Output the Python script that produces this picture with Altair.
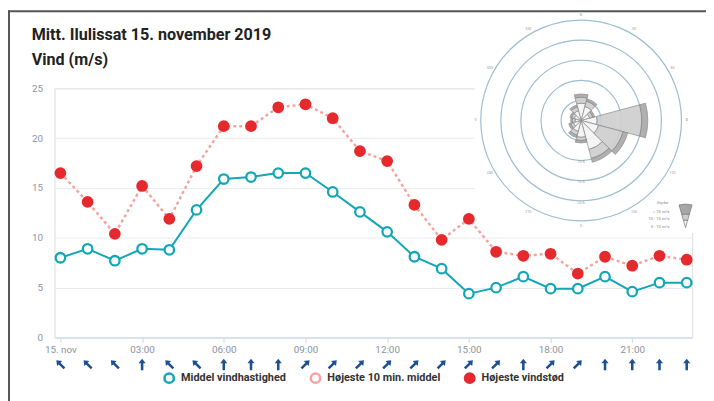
import altair as alt
import pandas as pd

# ---------------- data ----------------
hours = list(range(24))
mean_speed = [8.0, 8.9, 7.7, 8.9, 8.8, 12.8, 15.9, 16.1, 16.5, 16.5, 14.6, 12.6,
              10.6, 8.1, 6.9, 4.4, 5.0, 6.1, 4.9, 4.9, 6.1, 4.6, 5.5, 5.5]
gust_speed = [16.5, 13.6, 10.4, 15.2, 11.9, 17.2, 21.2, 21.2, 23.1, 23.4, 22.0, 18.7,
              17.7, 13.3, 9.8, 11.9, 8.6, 8.2, 8.4, 6.4, 8.1, 7.2, 8.2, 7.8]
arrow_dir = [315, 315, 315, 0, 315, 315, 0, 0, 0, 45, 45, 45,
             45, 45, 45, 45, 45, 0, 45, 45, 0, 0, 0, 0]
x_tick_values = [0, 3, 6, 9, 12, 15, 18, 21]
x_tick_labels = ["15. nov", "03:00", "06:00", "09:00", "12:00", "15:00", "18:00", "21:00"]
y_tick_values = [0, 5, 10, 15, 20, 25]
series_names = ["Middel vindhastighed", "Højeste 10 min. middel", "Højeste vindstød"]
series_stroke = ["#13a6b6", "#f4a39d", "#e5292d"]
series_fill = ["#ffffff", "#ffffff", "#e5292d"]

title_lines = ["Mitt. Ilulissat 15. november 2019", "Vind (m/s)"]

# wind rose (percent of time per direction, cumulative per speed class)
rose_dirs = [0, 30, 60, 90, 120, 150, 180, 210, 240, 270, 300, 330]
rose_low = [4.3, 3.6, 2.2, 4.0, 4.5, 7.5, 4.2, 2.8, 2.0, 1.5, 1.8, 2.5]
rose_mid = [5.8, 5.0, 3.0, 15.1, 10.8, 9.8, 5.0, 3.8, 2.7, 2.2, 2.5, 3.5]
rose_high = [6.6, 5.6, 3.5, 16.6, 12.0, 10.8, 5.6, 4.4, 3.2, 2.6, 2.9, 4.0]
rose_rings = [5, 10, 15, 20, 25]
rose_ring_labels = ["", "10 %", "15 %", "20 %", ""]
rose_dir_labels = ["N", "30", "60", "Ø", "120", "150", "S", "210", "240", "V", "300", "330"]
rose_levels = ["5 - 10 m/s", "10 - 15 m/s", "> 15 m/s"]
rose_level_colors = ["#f4f4f4", "#cdcdcd", "#a7a7a7"]
rose_key_radii = [1.9, 3.45, 5.9]
rose_legend_title = "Styrke"

# ---------------- tables ----------------
base_df = pd.DataFrame({"hour": hours, "mean": mean_speed, "gust": gust_speed, "dir": arrow_dir})
long_df = pd.concat([
    pd.DataFrame({"hour": hours, "value": mean_speed, "series": series_names[0]}),
    pd.DataFrame({"hour": hours, "value": gust_speed, "series": series_names[2]}),
], ignore_index=True)
one = pd.DataFrame({"k": [0]})

sector_dfs = []
for lvl in range(3):
    rows = []
    for d, a, b, c in zip(rose_dirs, rose_low, rose_mid, rose_high):
        r0, r1 = [(0, a), (a, b), (b, c)][lvl]
        rows.append({"t0": d - 15, "t1": d + 15, "r0": r0, "r1": r1})
    sector_dfs.append(pd.DataFrame(rows))

ring_df = pd.DataFrame({"r": rose_rings, "t0": 0, "t1": 360, "lab": rose_ring_labels})
dir_df = pd.DataFrame({"d": rose_dirs, "lab": rose_dir_labels, "r": 26.3})

# ---------------- scales / axes ----------------
x_scale = alt.Scale(domain=[-0.218, 23.2], nice=False, zero=False)
y_scale = alt.Scale(domain=[0, 25], nice=False, zero=True)
label_expr = "[" + ",".join(f"'{t}'" for t in x_tick_labels) + "][round(datum.value/3)]"
x_axis = alt.Axis(values=x_tick_values, labelExpr=label_expr, title=None, grid=False,
                  domainColor="#c9d9ea", tickColor="#c9d9ea", tickSize=5, labelPadding=2,
                  labelColor="#8c939b", labelFontSize=10, labelFont="Roboto")
y_axis = alt.Axis(values=y_tick_values, title=None, domain=False, ticks=False, labelPadding=12,
                  gridColor="#e8ebef", labelColor="#8d96a2", labelFontSize=10, labelFont="Roboto")
X = alt.X("hour:Q", scale=x_scale, axis=x_axis)

theta_scale = alt.Scale(domain=[0, 360], range=[0, 6.28319])
r_scale = alt.Scale(type="linear", domain=[0, 25], range=[0, 101.5], zero=True, nice=False)
cx, cy = 532.7, 32.5
kx, ky = 638.3, 141

# ---------------- layers ----------------
bg = alt.Chart(one).mark_rect(color="white").encode(
    x=alt.value(425), x2=alt.value(650), y=alt.value(-77), y2=alt.value(146))

gust_line = alt.Chart(base_df).mark_line(color="#f4a39d", strokeWidth=2.5, strokeDash=[3, 3]).encode(
    x=X, y=alt.Y("gust:Q", scale=y_scale, axis=y_axis))
mean_line = alt.Chart(base_df).mark_line(color=series_stroke[0], strokeWidth=2).encode(
    x=X, y=alt.Y("mean:Q", scale=y_scale, axis=y_axis))

legend = alt.Legend(title=None, orient="none", legendX=110, legendY=287, direction="horizontal",
                    labelFont="Roboto", labelFontSize=11, labelFontWeight="bold", labelColor="#333333",
                    symbolSize=90, symbolStrokeWidth=2.5, columnPadding=19, labelOffset=6, padding=0)
points = alt.Chart(long_df).mark_point(size=92, strokeWidth=2.3, opacity=1).encode(
    x=X, y=alt.Y("value:Q", scale=y_scale, axis=y_axis),
    color=alt.Color("series:N", scale=alt.Scale(domain=series_names, range=series_stroke), legend=legend),
    fill=alt.Fill("series:N", scale=alt.Scale(domain=series_names, range=series_fill), legend=legend),
)

arrow_path = "M0,-1L0.62,-0.2L0.22,-0.2L0.22,1L-0.22,1L-0.22,-0.2L-0.62,-0.2Z"
arrows = alt.Chart(base_df).mark_point(shape=arrow_path, filled=True, size=135, color="#1f4f8e", opacity=1).encode(
    x=X, y=alt.YDatum(-2.7), angle=alt.Angle("dir:Q", scale=None))

rings = alt.Chart(ring_df).mark_arc(filled=False, stroke="#9dbdd0", strokeWidth=1.2).encode(
    x=alt.value(cx), y=alt.value(cy),
    theta=alt.Theta("t0:Q", scale=theta_scale, stack=None), theta2="t1:Q",
    radius=alt.Radius("r:Q", scale=r_scale))

sectors = []
for lvl in range(3):
    sectors.append(alt.Chart(sector_dfs[lvl]).mark_arc(
        fill=rose_level_colors[lvl], stroke="#8a8a8a", strokeWidth=0.7, fillOpacity=0.9).encode(
        x=alt.value(cx), y=alt.value(cy),
        theta=alt.Theta("t0:Q", scale=theta_scale, stack=None), theta2="t1:Q",
        radius=alt.Radius("r1:Q", scale=r_scale), radius2="r0:Q"))

dir_labels = alt.Chart(dir_df).mark_text(fontSize=3.6, color="#9a9a9a").encode(
    x=alt.value(cx), y=alt.value(cy),
    theta=alt.Theta("d:Q", scale=theta_scale, stack=None),
    radius=alt.Radius("r:Q", scale=r_scale), text="lab:N")
ring_labels = alt.Chart(ring_df).transform_calculate(t="180", rr="datum.r + 0.45").mark_text(
    fontSize=3.6, color="#9a9a9a").encode(
    x=alt.value(cx), y=alt.value(cy),
    theta=alt.Theta("t:Q", scale=theta_scale, stack=None),
    radius=alt.Radius("rr:Q", scale=r_scale), text="lab:N")

key_layers = []
key_in = [0] + rose_key_radii[:-1]
for lvl in range(3):
    kdf = pd.DataFrame({"t0": [-16], "t1": [16], "r0": [key_in[lvl]], "r1": [rose_key_radii[lvl]]})
    key_layers.append(alt.Chart(kdf).mark_arc(
        fill=rose_level_colors[lvl], stroke="#777777", strokeWidth=0.7).encode(
        x=alt.value(kx), y=alt.value(ky),
        theta=alt.Theta("t0:Q", scale=theta_scale, stack=None), theta2="t1:Q",
        radius=alt.Radius("r1:Q", scale=r_scale), radius2="r0:Q"))

key_texts = [alt.Chart(pd.DataFrame({"t": [rose_legend_title]})).mark_text(
    fontSize=4.2, color="#888888", align="center").encode(
    x=alt.value(615), y=alt.value(116), text="t:N")]
for i, lab in enumerate(reversed(rose_levels)):
    key_texts.append(alt.Chart(pd.DataFrame({"t": [lab]})).mark_text(
        fontSize=4.2, color="#888888", align="right").encode(
        x=alt.value(622), y=alt.value(125 + 7.5 * i), text="t:N"))

titles = []
for i, t in enumerate(title_lines):
    titles.append(alt.Chart(pd.DataFrame({"t": [t]})).mark_text(
        font="Roboto", fontSize=16.3, fontWeight="bold", color="#222222", align="left",
        baseline="alphabetic").encode(x=alt.value(-23), y=alt.value(-48.5 + 24.5 * i), text="t:N"))

frame_top = alt.Chart(one).mark_rule(color="#555555", strokeWidth=2).encode(
    x=alt.value(-47), x2=alt.value(660), y=alt.value(-78))
frame_left = alt.Chart(one).mark_rule(color="#555555", strokeWidth=2).encode(
    x=alt.value(-46), y=alt.value(-79), y2=alt.value(320))

chart = alt.layer(
    bg, gust_line, mean_line, points, arrows, rings, *sectors, dir_labels, ring_labels,
    *key_layers, *key_texts, *titles, frame_top, frame_left
).properties(
    width=645, height=252,
    autosize=alt.AutoSizeParams(type="none"),
    padding={"left": 47, "top": 79, "right": 14, "bottom": 62},
).configure_view(stroke=None).configure(font="Roboto", background="white")

chart.save("out.html", embed_options={"renderer": "svg", "actions": False})
